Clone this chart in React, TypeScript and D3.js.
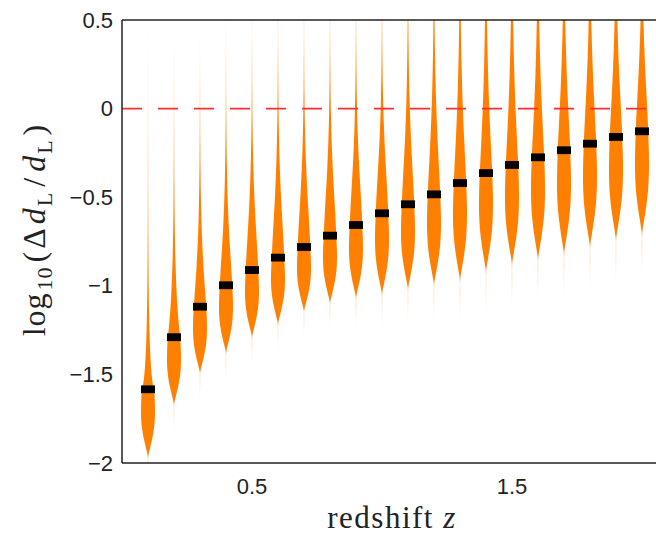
import React from 'react';
import * as d3 from 'd3';

// Redshift bins and the summary of each bin's log10 distance-error distribution
const redshifts = [0.1, 0.2, 0.3, 0.4, 0.5, 0.6, 0.7, 0.8, 0.9, 1.0, 1.1, 1.2, 1.3, 1.4, 1.5, 1.6, 1.7, 1.8, 1.9, 2.0];
const medians = [-1.584, -1.29, -1.118, -0.997, -0.911, -0.841, -0.781, -0.717, -0.657, -0.591, -0.54, -0.484, -0.42, -0.364, -0.318, -0.275, -0.235, -0.198, -0.16, -0.128];
const lowerEnds = [-1.96, -1.663, -1.485, -1.372, -1.283, -1.208, -1.137, -1.09, -1.06, -1.04, -1.01, -0.985, -0.96, -0.91, -0.87, -0.84, -0.81, -0.77, -0.73, -0.7];
// upper tail: spread above the median and its fall-off exponent
const upperSpread = [0.2, 0.3, 0.36, 0.4, 0.43, 0.44, 0.44, 0.44, 0.44, 0.44, 0.47, 0.5, 0.52, 0.53, 0.53, 0.52, 0.51, 0.5, 0.49, 0.48];
const upperShape = [0.75, 1.0, 1.2, 1.3, 1.4, 1.4, 1.45, 1.45, 1.45, 1.45, 1.35, 1.3, 1.25, 1.2, 1.2, 1.25, 1.3, 1.3, 1.35, 1.38];

// shared body profile below the median (depth as a fraction of median - lower end)
const lowerProfileDepth = [0, 0.1, 0.2, 0.3, 0.4, 0.5, 0.6, 0.7, 0.8, 0.9, 1.0, 1.15, 1.3, 1.5];
const lowerProfileWidth = [0.88, 0.94, 0.98, 1.0, 0.99, 0.94, 0.84, 0.68, 0.48, 0.25, 0.04, 0.015, 0.006, 0];

const yTicks = [0.5, 0, -0.5, -1, -1.5, -2];
const yTickLabels = ['0.5', '0', '\u22120.5', '\u22121', '\u22121.5', '\u22122'];
const xTicks = [0.5, 1.5];
const xTickLabels = ['0.5', '1.5'];

const W = 656;
const H = 536;
const left = 122;
const top = 20;
const bottom = 463;
const halfWidth = 7;

const x = d3.scaleLinear().domain([0, 2.1]).range([left, left + 2.1 * 260]);
const y = d3.scaleLinear().domain([-2, 0.5]).range([bottom, top]);

type Pt = { v: number; w: number };

function violinPoints(i: number): Pt[] {
  const m = medians[i];
  const depth = m - lowerEnds[i];
  const pts: Pt[] = [];
  for (let k = lowerProfileDepth.length - 1; k > 0; k--) {
    pts.push({ v: m - lowerProfileDepth[k] * depth, w: lowerProfileWidth[k] });
  }
  const s = upperSpread[i];
  const p = upperShape[i];
  for (let d = 0; d <= 2.8; d += 0.01) {
    pts.push({ v: m + d, w: lowerProfileWidth[0] * Math.exp(-Math.pow(d / s, p)) });
  }
  return pts;
}

export default function App() {
  const area = d3
    .area<Pt>()
    .y((p) => y(p.v))
    .curve(d3.curveCatmullRom);

  const plotRight = W + 4;
  const serif = "'Liberation Serif', 'Times New Roman', serif";

  return (
    <svg
      width={W}
      height={H}
      viewBox={`0 0 ${W} ${H}`}
      style={{ position: 'absolute', left: 0, top: 0, display: 'block', background: '#fff' }}
    >
      <defs>
        <clipPath id="plot-area">
          <rect x={left} y={top} width={plotRight - left} height={bottom - top} />
        </clipPath>
      </defs>

      <g clipPath="url(#plot-area)">
        {redshifts.map((z, i) => {
          const cx = x(z);
          const path = area
            .x0((p) => cx - p.w * halfWidth)
            .x1((p) => cx + p.w * halfWidth)(violinPoints(i));
          return <path key={`v${i}`} d={path ?? ''} fill="#ff8000" stroke="none" />;
        })}
        <line
          x1={x(0)}
          x2={plotRight}
          y1={y(0)}
          y2={y(0)}
          stroke="#ff2e2e"
          strokeWidth={1.6}
          strokeDasharray="20 16"
        />
        {redshifts.map((z, i) => (
          <rect
            key={`m${i}`}
            x={x(z) - 7}
            y={y(medians[i]) - 3.9}
            width={14}
            height={7.8}
            fill="#000"
          />
        ))}
      </g>

      {/* axes frame */}
      <g stroke="#222" strokeWidth={1.5} fill="none">
        <line x1={left} x2={left} y1={top} y2={bottom} />
        <line x1={left} x2={plotRight} y1={top} y2={top} />
        <line x1={left} x2={plotRight} y1={bottom} y2={bottom} />
      </g>

      <g fontFamily="'Liberation Sans', Arial, sans-serif" fontSize={22} fill="#222">
        {yTicks.map((t, i) => (
          <text key={`yt${i}`} x={113} y={y(t)} textAnchor="end" dominantBaseline="central">
            {yTickLabels[i]}
          </text>
        ))}
        {xTicks.map((t, i) => (
          <text key={`xt${i}`} x={x(t)} y={494} textAnchor="middle">
            {xTickLabels[i]}
          </text>
        ))}
      </g>

      <text
        x={392}
        y={528}
        textAnchor="middle"
        fontFamily={serif}
        fontSize={31}
        letterSpacing={1.5}
        fill="#222"
      >
        redshift <tspan fontStyle="italic">z</tspan>
      </text>

      <text
        transform="translate(45,230) rotate(-90)"
        textAnchor="middle"
        fontFamily={serif}
        fontSize={32}
        letterSpacing={1}
        fill="#222"
      >
        log
        <tspan fontSize={22} dx={2} dy={7}>10</tspan>
        <tspan dx={4} dy={-7}>(</tspan>
        <tspan dx={2}>Δ</tspan>
        <tspan dx={3} fontStyle="italic">d</tspan>
        <tspan fontSize={22} dx={1} dy={7}>L</tspan>
        <tspan dx={5} dy={-7}>/</tspan>
        <tspan dx={5} fontStyle="italic">d</tspan>
        <tspan fontSize={22} dx={1} dy={7}>L</tspan>
        <tspan dx={4} dy={-7}>)</tspan>
      </text>
    </svg>
  );
}
